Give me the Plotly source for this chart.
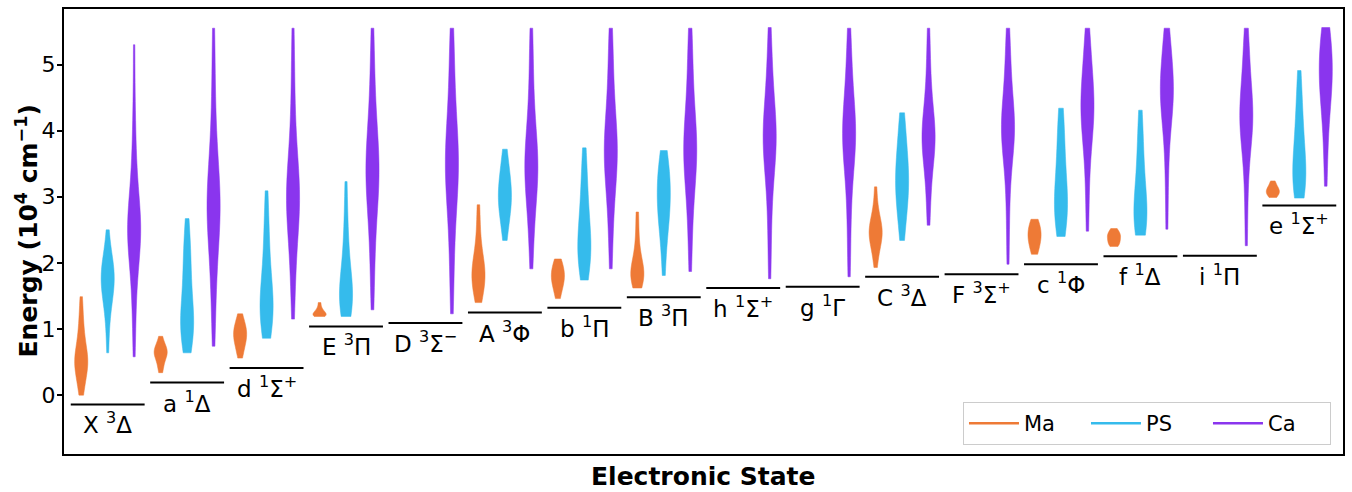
import plotly.graph_objects as go

# ---------------- data ----------------
states = ["X <sup>3</sup>Δ", "a <sup>1</sup>Δ", "d <sup>1</sup>Σ<sup>+</sup>", "E <sup>3</sup>Π",
          "D <sup>3</sup>Σ<sup>−</sup>", "A <sup>3</sup>Φ", "b <sup>1</sup>Π", "B <sup>3</sup>Π",
          "h <sup>1</sup>Σ<sup>+</sup>", "g <sup>1</sup>Γ", "C <sup>3</sup>Δ", "F <sup>3</sup>Σ<sup>+</sup>",
          "c <sup>1</sup>Φ", "f <sup>1</sup>Δ", "i <sup>1</sup>Π", "e <sup>1</sup>Σ<sup>+</sup>"]

# reference level of each state (10^4 cm^-1)
levels = [-0.14, 0.19, 0.41, 1.04, 1.09, 1.25, 1.32, 1.48, 1.62, 1.64, 1.79, 1.83, 1.98, 2.10, 2.11, 2.87]

# energy samples per state (None = no data)
ma_energies = [
    [0.0, 0.08, 0.18, 0.28, 0.35, 0.4, 0.45, 0.48, 0.5, 0.52, 0.55, 0.6, 0.65, 0.72, 0.8, 0.9, 1.0, 1.12, 1.3, 1.49],
    [0.34, 0.42, 0.5, 0.56, 0.6, 0.63, 0.65, 0.67, 0.7, 0.74, 0.79, 0.89],
    [0.56, 0.66, 0.74, 0.8, 0.85, 0.89, 0.93, 0.97, 1.01, 1.06, 1.12, 1.23],
    [1.19, 1.2, 1.21, 1.22, 1.23, 1.25, 1.28, 1.32, 1.4],
    None,
    [1.4, 1.52, 1.62, 1.7, 1.76, 1.82, 1.88, 1.94, 2.02, 2.12, 2.3, 2.55, 2.88],
    [1.46, 1.58, 1.66, 1.72, 1.77, 1.81, 1.86, 1.92, 1.98, 2.06],
    [1.62, 1.7, 1.76, 1.8, 1.84, 1.89, 1.95, 2.05, 2.2, 2.45, 2.77],
    None,
    None,
    [1.93, 2.1, 2.2, 2.28, 2.34, 2.39, 2.43, 2.47, 2.51, 2.55, 2.6, 2.67, 2.76, 2.9, 3.15],
    None,
    [2.13, 2.22, 2.3, 2.36, 2.41, 2.46, 2.52, 2.58, 2.66],
    [2.25, 2.28, 2.3, 2.33, 2.37, 2.4, 2.42, 2.44, 2.47, 2.52],
    None,
    [2.99, 3.02, 3.05, 3.07, 3.09, 3.11, 3.14, 3.18, 3.24],
]

ps_energies = [
    [0.64, 0.95, 1.15, 1.3, 1.4, 1.48, 1.55, 1.6, 1.65, 1.7, 1.75, 1.8, 1.85, 1.9, 1.95, 2.0, 2.05, 2.15, 2.3, 2.5],
    [0.64, 0.78, 0.88, 0.95, 1.0, 1.05, 1.1, 1.15, 1.25, 1.35, 1.5, 1.65, 1.8, 1.95, 2.1, 2.25, 2.4, 2.67],
    [0.86, 1.0, 1.1, 1.18, 1.24, 1.3, 1.36, 1.43, 1.52, 1.65, 1.8, 2.0, 2.2, 2.45, 2.7, 3.09],
    [1.19, 1.25, 1.32, 1.38, 1.44, 1.5, 1.56, 1.62, 1.72, 1.85, 2.0, 2.2, 2.45, 2.75, 3.23],
    None,
    [2.34, 2.55, 2.7, 2.8, 2.88, 2.95, 3.02, 3.1, 3.18, 3.27, 3.38, 3.52, 3.72],
    [1.74, 1.9, 2.0, 2.08, 2.15, 2.22, 2.3, 2.4, 2.52, 2.66, 2.82, 3.0, 3.2, 3.45, 3.74],
    [1.81, 2.2, 2.45, 2.6, 2.72, 2.82, 2.92, 3.02, 3.12, 3.22, 3.32, 3.42, 3.55, 3.7],
    None,
    None,
    [2.34, 2.6, 2.78, 2.92, 3.04, 3.14, 3.23, 3.32, 3.42, 3.54, 3.68, 3.85, 4.05, 4.27],
    None,
    [2.4, 2.55, 2.66, 2.75, 2.83, 2.92, 3.02, 3.15, 3.3, 3.48, 3.68, 3.9, 4.12, 4.34],
    [2.42, 2.5, 2.57, 2.63, 2.7, 2.78, 2.88, 3.0, 3.15, 3.32, 3.52, 3.75, 4.0, 4.31],
    None,
    [2.98, 3.05, 3.12, 3.2, 3.28, 3.36, 3.45, 3.55, 3.68, 3.82, 3.98, 4.15, 4.35, 4.6, 4.91],
]

ca_energies = [
    [0.58, 1.05, 1.4, 1.68, 1.9, 2.07, 2.2, 2.3, 2.37, 2.43, 2.48, 2.53, 2.59, 2.66, 2.75, 2.86, 3.0, 3.17,
     3.38, 3.65, 4.0, 4.5, 5.3],
    [0.74, 1.2, 1.55, 1.85, 2.1, 2.3, 2.47, 2.6, 2.7, 2.78, 2.85, 2.92, 3.0, 3.1, 3.22, 3.37, 3.56, 3.8, 4.1,
     4.5, 5.0, 5.55],
    [1.15, 1.55, 1.88, 2.15, 2.38, 2.56, 2.7, 2.8, 2.88, 2.95, 3.02, 3.1, 3.19, 3.3, 3.44, 3.62, 3.85, 4.15,
     4.55, 5.0, 5.55],
    [1.29, 1.75, 2.12, 2.45, 2.72, 2.93, 3.08, 3.19, 3.28, 3.36, 3.44, 3.53, 3.63, 3.76, 3.92, 4.12, 4.38,
     4.7, 5.1, 5.55],
    [1.23, 1.72, 2.12, 2.48, 2.78, 3.0, 3.17, 3.29, 3.38, 3.46, 3.54, 3.63, 3.74, 3.88, 4.05, 4.27, 4.55,
     4.9, 5.25, 5.55],
    [1.91, 2.3, 2.6, 2.84, 3.03, 3.17, 3.28, 3.36, 3.43, 3.5, 3.58, 3.68, 3.8, 3.96, 4.16, 4.42, 4.75, 5.15,
     5.55],
    [1.91, 2.35, 2.7, 2.98, 3.2, 3.36, 3.48, 3.57, 3.64, 3.71, 3.79, 3.89, 4.01, 4.17, 4.37, 4.62, 4.92, 5.25,
     5.55],
    [1.87, 2.33, 2.7, 2.99, 3.21, 3.38, 3.5, 3.59, 3.66, 3.73, 3.81, 3.91, 4.03, 4.19, 4.39, 4.64, 4.94, 5.26,
     5.55],
    [1.76, 2.3, 2.75, 3.1, 3.36, 3.55, 3.68, 3.77, 3.84, 3.91, 3.99, 4.09, 4.22, 4.38, 4.58, 4.83, 5.15, 5.56],
    [1.79, 2.33, 2.78, 3.14, 3.41, 3.6, 3.73, 3.82, 3.89, 3.96, 4.04, 4.14, 4.27, 4.43, 4.63, 4.88, 5.2, 5.55],
    [2.57, 2.93, 3.2, 3.42, 3.58, 3.7, 3.78, 3.84, 3.89, 3.95, 4.02, 4.11, 4.23, 4.38, 4.57, 4.82, 5.15, 5.55],
    [1.98, 2.55, 3.0, 3.35, 3.6, 3.77, 3.88, 3.95, 3.99, 4.05, 4.13, 4.23, 4.36, 4.52, 4.72, 4.97, 5.25, 5.55],
    [2.48, 3.02, 3.45, 3.75, 3.96, 4.1, 4.2, 4.29, 4.37, 4.46, 4.57, 4.7, 4.86, 5.05, 5.28, 5.55],
    [2.51, 3.1, 3.55, 3.88, 4.12, 4.28, 4.4, 4.48, 4.54, 4.61, 4.69, 4.79, 4.91, 5.05, 5.2, 5.37, 5.55],
    [2.26, 2.85, 3.3, 3.62, 3.85, 3.99, 4.08, 4.14, 4.2, 4.28, 4.38, 4.5, 4.65, 4.83, 5.05, 5.3, 5.55],
    [3.16, 3.65, 4.0, 4.27, 4.46, 4.6, 4.7, 4.79, 4.88, 4.98, 5.1, 5.23, 5.36, 5.47, 5.56],
]

series_names = ["Ma", "PS", "Ca"]
series_colors = ["#EE7A36", "#35BBEC", "#8A35EE"]
series_offsets = [-0.333, 0.0, 0.333]
series_data = [ma_energies, ps_energies, ca_energies]

y_ticks = [0, 1, 2, 3, 4, 5]

# ---------------- figure ----------------
FONT = "DejaVu Sans"
fig = go.Figure()

# one trace per violin so that every violin gets the same maximal width
for name, color, off, data in zip(series_names, series_colors, series_offsets, series_data):
    for i, samples in enumerate(data):
        if samples is None:
            continue
        fig.add_trace(go.Violin(
            x=[i + off] * len(samples), y=samples, name=name, showlegend=False,
            width=0.165, scalemode="width", spanmode="hard", points=False,
            fillcolor=color, line=dict(color=color, width=0.5),
            box_visible=False, meanline_visible=False, hoverinfo="skip",
        ))

# state level lines
lx, ly = [], []
half = 0.465
for i, lev in enumerate(levels):
    lx += [i - half, i + half, None]
    ly += [lev, lev, None]
fig.add_trace(go.Scatter(x=lx, y=ly, mode="lines", line=dict(color="black", width=2),
                         showlegend=False, hoverinfo="skip"))

# legend entries as lines
for name, color in zip(series_names, series_colors):
    fig.add_trace(go.Scatter(x=[None], y=[None], mode="lines", name=name,
                             line=dict(color=color, width=2.5)))

# state labels
for i, (lab, lev) in enumerate(zip(states, levels)):
    fig.add_annotation(x=i, y=lev, text=lab, showarrow=False, xanchor="center",
                       yanchor="middle", yshift=-19, font=dict(family=FONT, size=23, color="black"))

# axis titles
fig.add_annotation(xref="paper", yref="paper", x=0, y=0.5, xshift=-37, textangle=-90,
                   text="<b>Energy (10<sup>4</sup> cm<sup>−1</sup>)</b>", showarrow=False,
                   xanchor="center", yanchor="middle", font=dict(family=FONT, size=25, color="black"))
fig.add_annotation(xref="paper", yref="paper", x=0.5, y=0, yshift=-22,
                   text="<b>Electronic State</b>", showarrow=False,
                   xanchor="center", yanchor="middle", font=dict(family=FONT, size=25, color="black"))

fig.update_layout(
    width=1352, height=492,
    margin=dict(l=64, r=9, t=7, b=38),
    paper_bgcolor="white", plot_bgcolor="white",
    violinmode="overlay",
    font=dict(family=FONT, size=22, color="black"),
    legend=dict(orientation="h", traceorder="normal", x=0.9906, xanchor="right", y=0.02,
                yanchor="bottom", bgcolor="white", bordercolor="#cccccc", borderwidth=1,
                font=dict(family=FONT, size=21), itemwidth=50, entrywidth=57,
                entrywidthmode="pixels"),
    showlegend=True,
)
fig.update_xaxes(range=[-0.55, 15.55], showticklabels=False, ticks="", showgrid=False,
                 zeroline=False, showline=True, linecolor="black", linewidth=2, mirror=True)
fig.update_yaxes(range=[-0.89, 5.84], tickvals=y_ticks, ticks="outside", ticklen=5, tickwidth=1.5,
                 tickcolor="black", tickfont=dict(family=FONT, size=22), ticklabelstandoff=-3,
                 showgrid=False, zeroline=False, showline=True, linecolor="black", linewidth=2,
                 mirror=True)

fig.write_html("out.html", config={"displayModeBar": False},
               post_script="document.body.style.margin='0';document.body.style.padding='0';")
